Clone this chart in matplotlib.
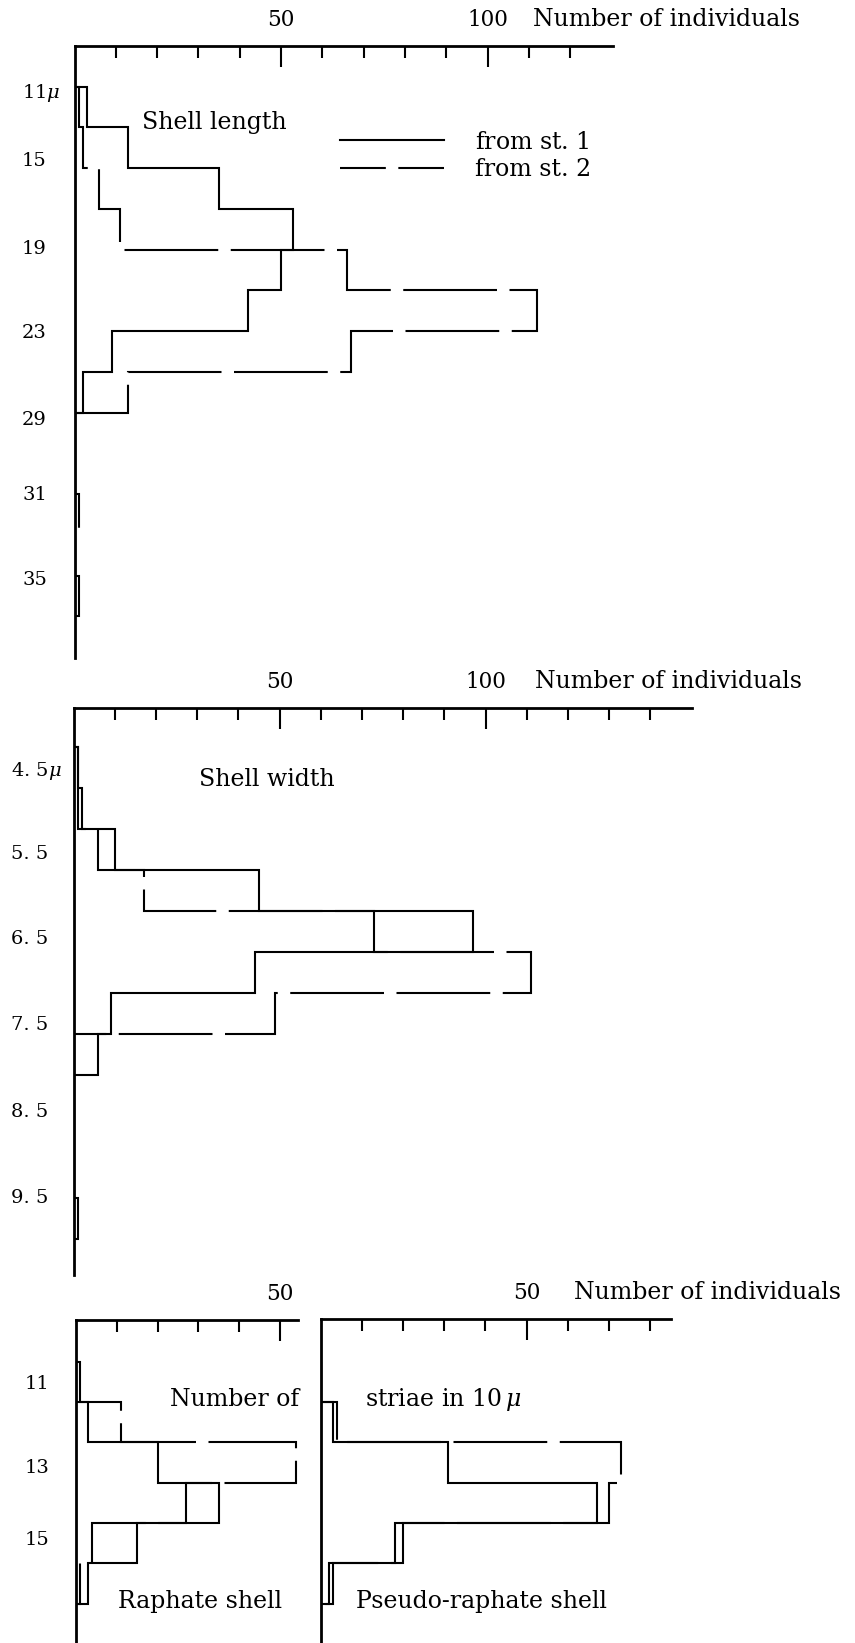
import matplotlib.pyplot as plt
from matplotlib.lines import Line2D
import numpy as np

plt.rcParams['font.family'] = ['DejaVu Serif']
plt.rcParams['mathtext.fontset'] = 'dejavuserif'

# shell length classes (rows counted from the top of the panel)
length_labels = ['11$\\mu$', '15', '19', '23', '29', '31', '35']
length_label_rows = [0.08, 1.77, 3.93, 6.0, 8.13, 9.97, 12.06]
length_st1 = [3, 13, 35, 53, 50, 42, 9, 2, 0, 0, 0, 0, 1]
length_st2 = [1, 2, 6, 11, 66, 112, 67, 13, 0, 0, 1, 0, 0]

# shell width classes
width_labels = ['4. 5$\\mu$', '5. 5', '6. 5', '7. 5', '8. 5', '9. 5']
width_label_rows = [0.53, 2.56, 4.63, 6.75, 8.85, 10.97]
width_st1 = [1, 2, 10, 45, 97, 44, 9, 0, 0, 0, 0, 1]
width_st2 = [1, 1, 6, 17, 73, 111, 49, 6, 0, 0, 0, 0]

# number of striae in 10 micron
striae_labels = ['11', '13', '15']
striae_label_rows = [0.5, 2.59, 4.38]
raphate_st1 = [0, 3, 20, 35, 15, 3]
raphate_st2 = [1, 11, 54, 27, 4, 1]
pseudo_st1 = [0, 3, 31, 67, 18, 2]
pseudo_st2 = [0, 4, 73, 70, 20, 3]

W, H = 855, 1643
fig = plt.figure(figsize=(W / 100, H / 100), dpi=100)

DASH = (0, (45, 6))
LW = 1.5
PT = 100 / 72  # px per point
FS = 17


def panel(left, right, top, bottom, scale, row0, rowh, major, minor):
    ax = fig.add_axes([left / W, 1 - bottom / H, (right - left) / W, (bottom - top) / H])
    ax.set_xlim(0, (right - left) / scale)
    ax.set_ylim((bottom - row0) / rowh, (top - row0) / rowh)
    for s in ['right', 'bottom']:
        ax.spines[s].set_visible(False)
    for s in ['top', 'left']:
        ax.spines[s].set_linewidth(2)
    ax.xaxis.tick_top()
    ax.set_xticks(major)
    ax.set_xticks(minor, minor=True)
    ax.tick_params(axis='x', which='major', direction='in', length=15, width=1.5,
                   pad=11, labelsize=15.5)
    ax.tick_params(axis='x', which='minor', direction='in', length=8.5, width=1.5)
    ax.patch.set_alpha(0)
    return ax


def rows(ax, pos, labels, left, label_x):
    ax.set_yticks(pos, labels)
    ax.tick_params(axis='y', length=0, pad=(left - label_x) / PT, labelsize=14)
    for lbl in ax.get_yticklabels():
        lbl.set_horizontalalignment('left')


def hist(ax, st1, st2):
    ax.stairs(st1, np.arange(len(st1) + 1), orientation='horizontal',
              color='black', lw=LW)
    ax.stairs(st2, np.arange(len(st2) + 1), orientation='horizontal',
              color='black', lw=LW, linestyle=DASH)


def title_right(ax, x, txt):
    ax.annotate(txt, xy=(x, 1.0), xycoords=('data', 'axes fraction'),
                xytext=(0, 11), textcoords='offset points',
                ha='left', va='bottom', fontsize=FS)


# --- Shell length
ax1 = panel(74.5, 613, 46, 658, 4.13, 86.7, 40.75, [50, 100],
            [10, 20, 30, 40, 60, 70, 80, 90, 110, 120])
hist(ax1, length_st1, length_st2)
rows(ax1, length_label_rows, length_labels, 74.5, 22)
title_right(ax1, 111, 'Number of individuals')
ax1.text(16.4, 0.89, 'Shell length', fontsize=FS, va='center')
handles = [Line2D([], [], color='black', lw=LW),
           Line2D([], [], color='black', lw=LW, linestyle=(0, (22, 6)))]
ax1.legend(handles, ['from st. $\\it{1}$', 'from st. 2'], loc='center left',
           bbox_to_anchor=(340 / W, 1 - 156 / H), bbox_transform=fig.transFigure,
           frameon=False, fontsize=FS, handlelength=4.4, handletextpad=1.3,
           labelspacing=0.2, borderpad=0, borderaxespad=0)

# --- Shell width
ax2 = panel(73.5, 692, 708.3, 1275, 4.12, 746.7, 41.0, [50, 100],
            [10, 20, 30, 40, 60, 70, 80, 90, 110, 120, 130, 140])
hist(ax2, width_st1, width_st2)
rows(ax2, width_label_rows, width_labels, 73.5, 11)
title_right(ax2, 111.9, 'Number of individuals')
ax2.text(30.5, 0.81, 'Shell width', fontsize=FS, va='center')

# --- Striae: raphate shell
ax3 = panel(76, 297.7, 1320, 1643, 4.08, 1361.7, 40.3, [50], [10, 20, 30, 40])
hist(ax3, raphate_st1, raphate_st2)
rows(ax3, striae_label_rows, striae_labels, 76, 25)
ax3.text(23, 0.95, 'Number of', fontsize=FS, va='center')
ax3.text(10.3, 5.96, 'Raphate shell', fontsize=FS, va='center')

# --- Striae: pseudo-raphate shell
ax4 = panel(320.5, 671, 1319, 1643, 4.12, 1361.7, 40.3, [50],
            [10, 20, 30, 40, 60, 70, 80])
hist(ax4, pseudo_st1, pseudo_st2)
ax4.set_yticks([])
title_right(ax4, 61.5, 'Number of individuals')
ax4.text(10.8, 0.95, 'striae in 10$\\,\\mu$', fontsize=FS, va='center')
ax4.text(8.6, 5.96, 'Pseudo-raphate shell', fontsize=FS, va='center')

fig.savefig('out.png', dpi=100, facecolor='white')
